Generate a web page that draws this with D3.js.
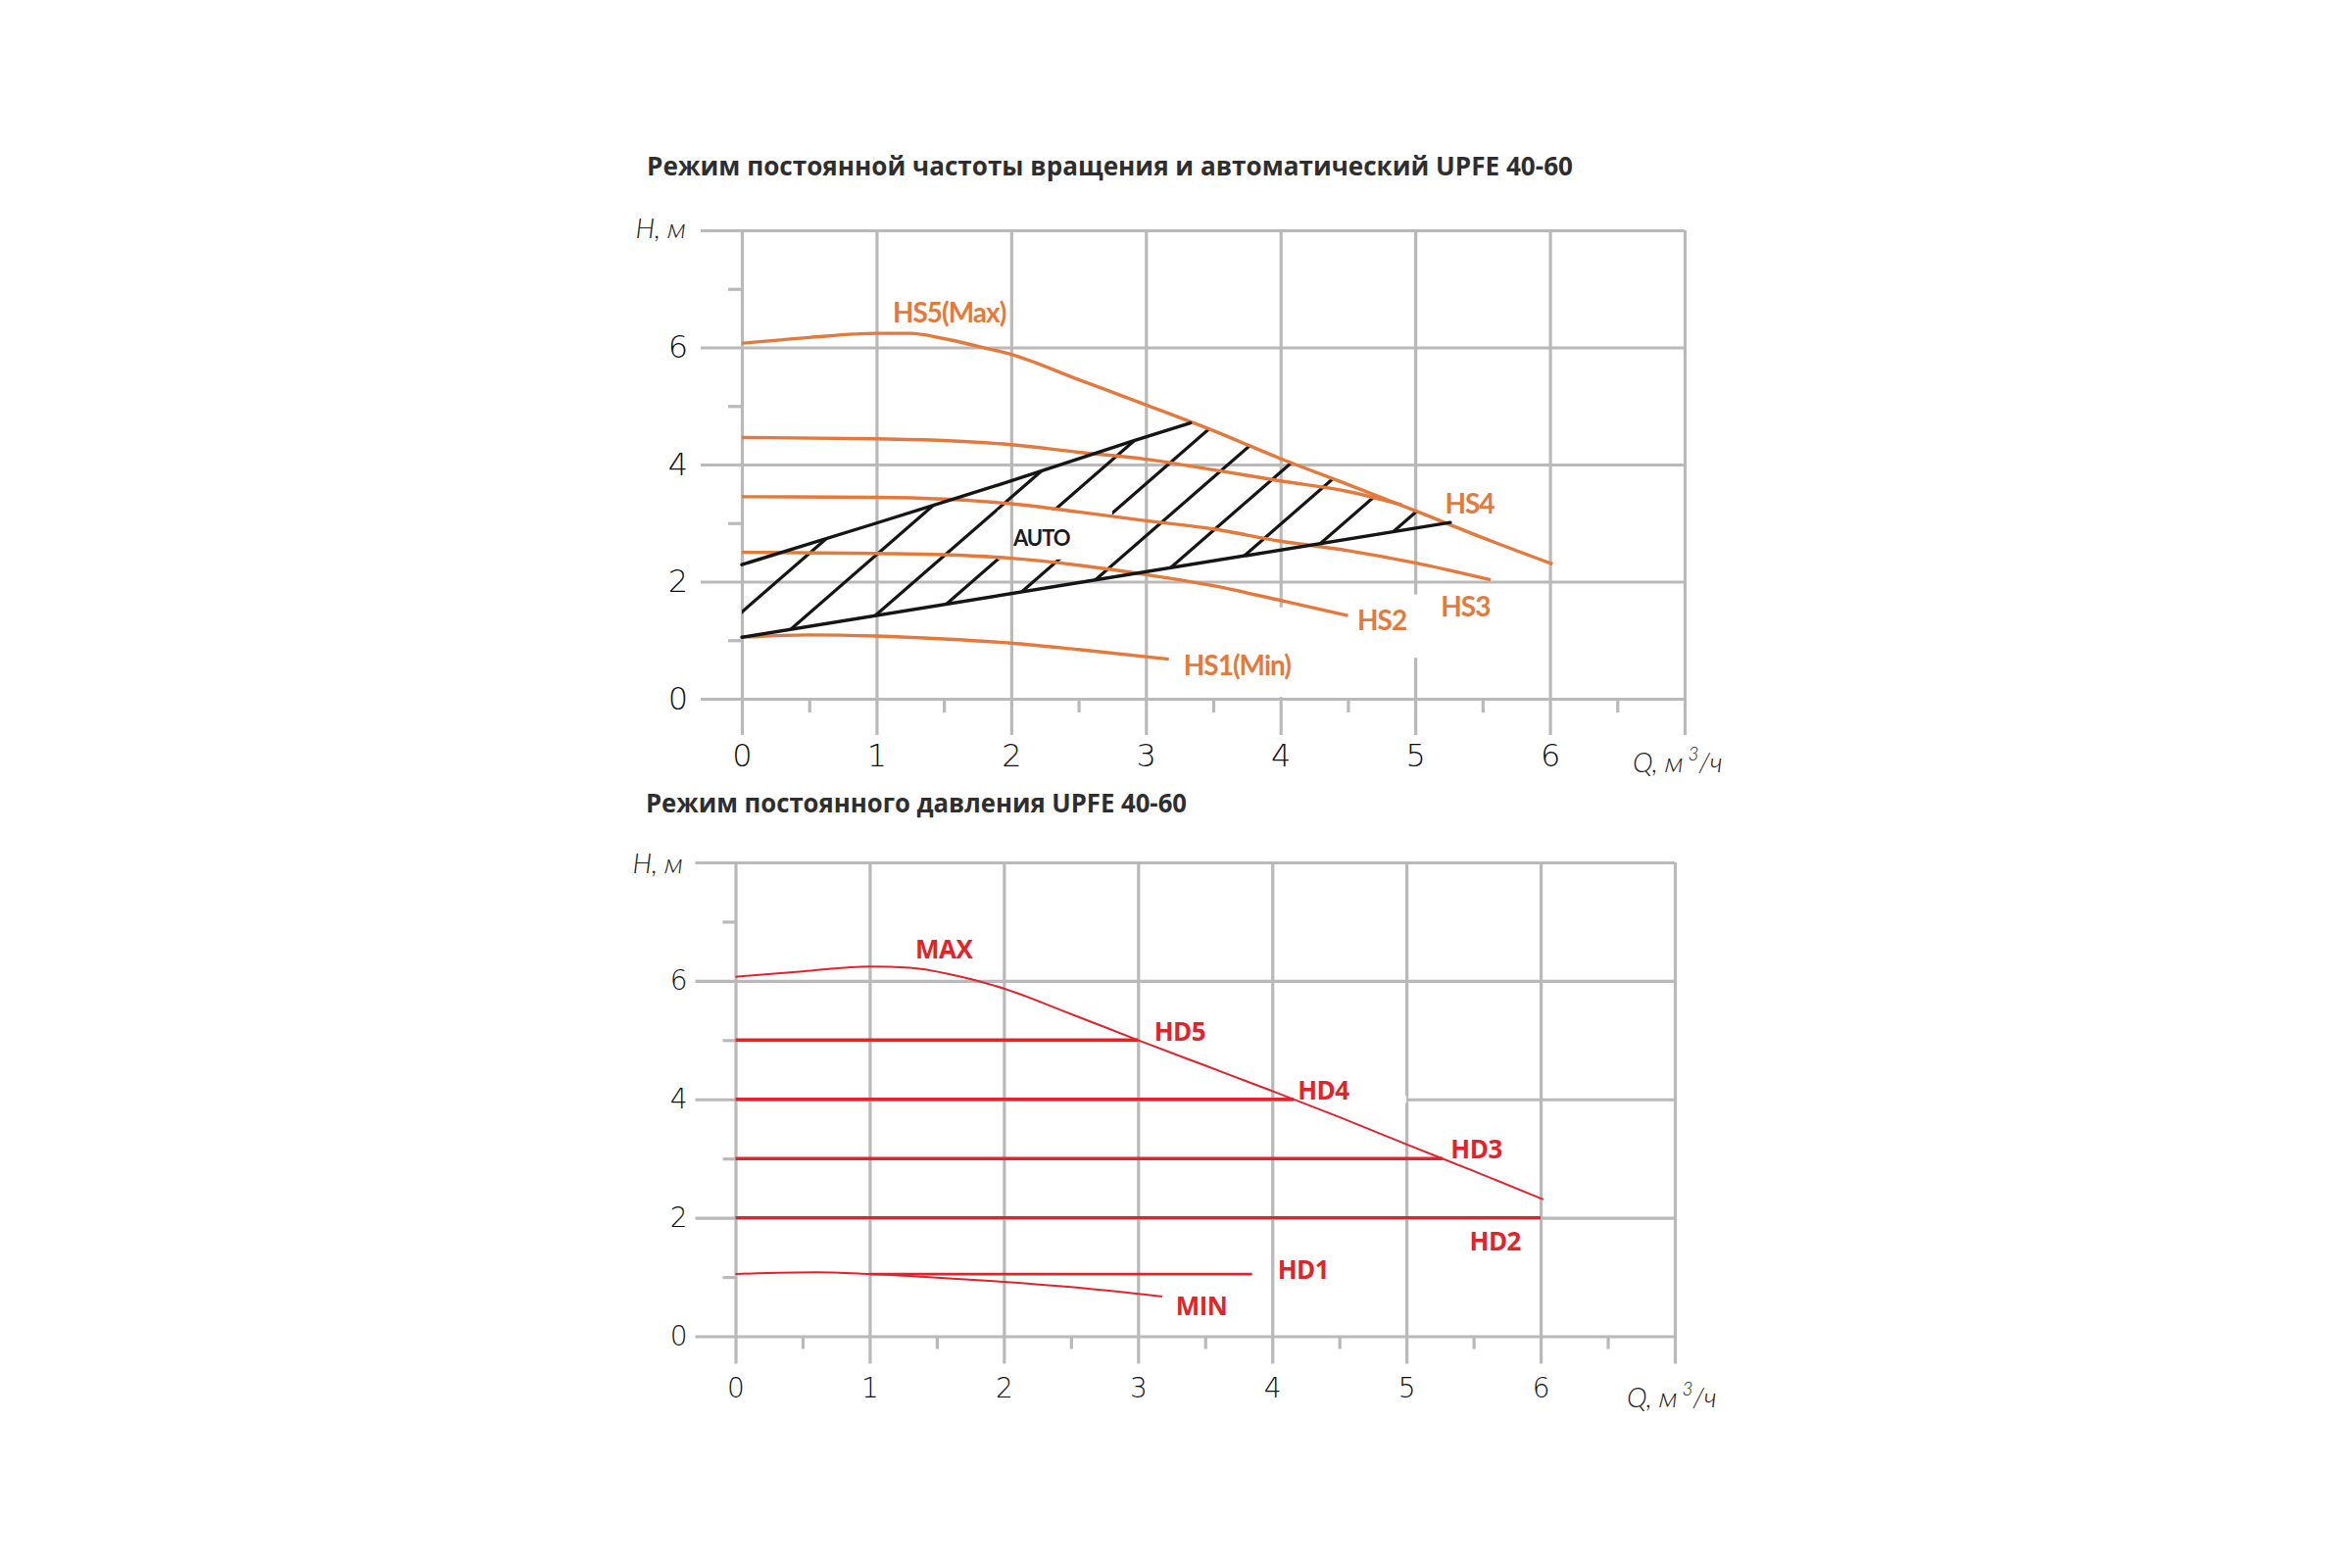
<!DOCTYPE html>
<html>
<head>
<meta charset="utf-8">
<script src="https://cdn.jsdelivr.net/npm/d3@7"></script>
<style>
  body { margin: 0; background: #fff; }
  svg { display: block; }
</style>
</head>
<body>
<main></main>
<script>
// ---------- data (Q in m3/h, H in m) ----------
const gridQ = [0, 1, 2, 3, 4, 5, 6, 7]
const minorQ = [0.5, 1.5, 2.5, 3.5, 4.5, 5.5, 6.5]
const gridH = [0, 2, 4, 6, 8]
const minorH = [1, 3, 5, 7]
const qLabels = [0, 1, 2, 3, 4, 5, 6]
const hLabels = [0, 2, 4, 6]

// constant speed curves (top chart)
const hs5 = [[0, 6.07], [0.5, 6.17], [1, 6.24], [1.25, 6.24], [1.5, 6.15], [1.75, 6.02], [2, 5.88], [2.5, 5.45], [3, 5.02], [3.5, 4.58], [4, 4.1], [4.5, 3.66], [5, 3.21], [5.5, 2.75], [6.02, 2.3]]
const hs4 = [[0, 4.46], [1, 4.44], [1.5, 4.41], [2, 4.34], [2.5, 4.21], [3, 4.09], [3.5, 3.91], [4, 3.72], [4.5, 3.54], [4.9, 3.31]]
const hs3 = [[0, 3.45], [1, 3.44], [1.5, 3.41], [2, 3.33], [2.5, 3.19], [3, 3.04], [3.5, 2.9], [4, 2.69], [4.5, 2.53], [5, 2.32], [5.56, 2.03]]
const hs2 = [[0, 2.5], [1, 2.48], [1.5, 2.46], [2, 2.4], [2.5, 2.28], [3, 2.12], [3.5, 1.93], [4, 1.68], [4.5, 1.42]]
const hs1 = [[0, 1.05], [0.5, 1.09], [1, 1.07], [1.5, 1.02], [2, 0.95], [2.5, 0.84], [3.17, 0.675]]

// AUTO zone edges and hatch lines (H = 2*Q + c)
const autoUpper = [[0, 2.29], [1, 3.0], [2, 3.72], [2.9, 4.4], [3.33, 4.71]]
const autoLower = [[0, 1.05], [5.26, 3.01]]
const hatchC = [1.48, 0.46, -0.56, -1.42, -2.33, -3.22, -4.13, -5.02, -5.94, -6.82]
const hatchSlope = 2
const autoLabelAt = [2.225, 2.76]
const autoGap = [[1.9, 2.38], [2.75, 3.22]]

const topNames = ["HS5(Max)", "HS4", "HS3", "HS2", "HS1(Min)"]
const topLabelAt = [[1.12, 6.61], [5.22, 3.35], [5.19, 1.59], [4.57, 1.35], [3.28, 0.59]]

// constant pressure (bottom chart)
const maxCurve = [[0, 6.07], [0.5, 6.16], [1, 6.24], [1.3, 6.22], [1.6, 6.11], [2, 5.87], [2.5, 5.44], [3, 5.0], [3.5, 4.57], [4, 4.14], [4.5, 3.7], [5, 3.24], [5.5, 2.79], [6.02, 2.31]]
const minCurve = [[0, 1.05], [0.6, 1.08], [1, 1.05], [1.5, 0.99], [2, 0.92], [2.5, 0.83], [3.18, 0.67]]
const hdNames = ["HD5", "HD4", "HD3", "HD2", "HD1"]
const hdHead = [5, 4, 3, 2, 1.05]
const hdFrom = [0, 0, 0, 0, 1.0]
const hdTo = [3.0, 4.16, 5.27, 6.0, 3.85]
const botNames = ["MAX", "HD5", "HD4", "HD3", "HD2", "HD1", "MIN"]
const botLabelAt = [[1.34, 6.55], [3.12, 5.15], [4.19, 4.16], [5.33, 3.17], [5.47, 1.62], [4.04, 1.13], [3.28, 0.52]]

const topTitle = "Режим постоянной частоты вращения и автоматический  UPFE 40-60"
const botTitle = "Режим постоянного давления UPFE 40-60"

// ---------- look ----------
const ORANGE = "#e5793b"
const RED = "#e2232b"
const GRID = "#b9b9b9"
const INK = "#2e2e2e"

const svg = d3.select("main").append("svg").attr("width", 2400).attr("height", 1600)

const topX = d3.scaleLinear().domain([0, 7]).range([757, 1719])
const topY = d3.scaleLinear().domain([0, 8]).range([713, 235])
const botX = d3.scaleLinear().domain([0, 7]).range([750.5, 1709])
const botY = d3.scaleLinear().domain([0, 8]).range([1363.5, 880])

const gridStyle = (s) => {
  s.select(".domain").remove()
  s.selectAll("line").attr("stroke", GRID).attr("stroke-width", 3.2)
}

function drawFrame(x, y, o) {
  const g = svg.append("g")
  const [xa, xb] = x.range()
  const [ya, yb] = y.range()

  g.append("g")
    .attr("transform", `translate(${xa - o.gridLeft},0)`)
    .call(d3.axisLeft(y).tickValues(gridH).tickSize(-(xb - xa + o.gridLeft)).tickFormat(""))
    .call(gridStyle)
  g.append("g")
    .attr("transform", `translate(0,${ya + o.gridBelow})`)
    .call(d3.axisBottom(x).tickValues(gridQ).tickSize(-(ya + o.gridBelow - yb)).tickFormat(""))
    .call(gridStyle)
  g.append("g")
    .attr("transform", `translate(${xa},0)`)
    .call(d3.axisLeft(y).tickValues(minorH).tickSize(o.minor).tickFormat(""))
    .call(gridStyle)
  g.append("g")
    .attr("transform", `translate(0,${ya})`)
    .call(d3.axisBottom(x).tickValues(minorQ).tickSize(o.minor).tickFormat(""))
    .call(gridStyle)

  // white breaks in the grid left by the label boxes of the original
  g.selectAll("rect.gap")
    .data(o.gaps)
    .enter()
    .append("rect")
    .attr("x", (d) => x(d[0][0]))
    .attr("y", (d) => y(d[1][1]))
    .attr("width", (d) => x(d[0][1]) - x(d[0][0]))
    .attr("height", (d) => y(d[1][0]) - y(d[1][1]))
    .attr("fill", "#fff")

  const tickText = (s) => {
    s.select(".domain").remove()
    s.attr("font-family", "'DejaVu Sans', sans-serif").attr("font-size", o.tickFont)
    s.selectAll("text").attr("fill", "#111").attr("font-weight", 200)
  }
  g.append("g")
    .attr("transform", `translate(${xa},0)`)
    .call(d3.axisLeft(y).tickValues(hLabels).tickSize(0).tickPadding(o.yPad).tickFormat(d3.format("d")))
    .call(tickText)
  g.append("g")
    .attr("transform", `translate(0,${ya})`)
    .call(d3.axisBottom(x).tickValues(qLabels).tickSize(0).tickPadding(o.xPad).tickFormat(d3.format("d")))
    .call(tickText)

  g.append("text")
    .attr("x", o.hAt[0]).attr("y", o.hAt[1])
    .attr("text-anchor", "end").attr("dominant-baseline", "central")
    .attr("font-family", "Lato, sans-serif").attr("font-style", "italic").attr("font-weight", 300)
    .attr("font-size", 28).attr("fill", "#222")
    .text("H, м")

  const q = g.append("text")
    .attr("x", o.qAt[0]).attr("y", o.qAt[1])
    .attr("dominant-baseline", "central")
    .attr("font-family", "Lato, sans-serif").attr("font-style", "italic").attr("font-weight", 300)
    .attr("font-size", 28).attr("fill", "#222")
  q.append("tspan").text("Q, м")
  q.append("tspan").attr("dy", -9).attr("font-size", 19).text(" 3")
  q.append("tspan").attr("dy", 9).text("/ч")

  svg.append("text")
    .attr("x", o.titleAt[0]).attr("y", o.titleAt[1])
    .attr("font-family", "'Open Sans', sans-serif").attr("font-weight", 700)
    .attr("font-size", 26).attr("fill", INK)
    .attr("textLength", o.titleLen).attr("lengthAdjust", "spacingAndGlyphs")
    .text(o.title)
}

const curve = (x, y) => d3.line().x((d) => x(d[0])).y((d) => y(d[1])).curve(d3.curveMonotoneX)
const straight = (x, y) => d3.line().x((d) => x(d[0])).y((d) => y(d[1]))

// ---------- top chart ----------
drawFrame(topX, topY, {
  gridLeft: 42, gridBelow: 37, minor: 14, tickFont: 32, yPad: 55, xPad: 46,
  gaps: [[[3.96, 4.04], [0.03, 1.56]], [[4.96, 5.04], [0.7, 1.78]]],
  hAt: [700, 232], qAt: [1666, 777],
  title: topTitle, titleAt: [660, 179], titleLen: 945,
})

const zone = autoLower
  .concat(hs5.filter((d) => d[0] > autoUpper[autoUpper.length - 1][0] && d[0] < autoLower[1][0]).reverse())
  .concat(autoUpper.slice().reverse())

const defs = svg.append("defs")
defs.append("clipPath").attr("id", "zone")
  .append("path")
  .attr("d", straight(topX, topY)(zone) + "Z")

const mask = defs.append("mask").attr("id", "auto-gap")
  .attr("maskUnits", "userSpaceOnUse").attr("x", 0).attr("y", 0).attr("width", 2400).attr("height", 1600)
mask.append("rect").attr("width", 2400).attr("height", 1600).attr("fill", "#fff")
mask.append("rect")
  .attr("x", topX(autoGap[0][0])).attr("y", topY(autoGap[1][1]))
  .attr("width", topX(autoGap[1][0]) - topX(autoGap[0][0]))
  .attr("height", topY(autoGap[0][1]) - topY(autoGap[1][1]))
  .attr("fill", "#000")

svg.append("g")
  .attr("clip-path", "url(#zone)")
  .attr("mask", "url(#auto-gap)")
  .selectAll("line")
  .data(hatchC)
  .enter()
  .append("line")
  .attr("x1", topX(-1)).attr("y1", (c) => topY(-hatchSlope + c))
  .attr("x2", topX(7)).attr("y2", (c) => topY(7 * hatchSlope + c))
  .attr("stroke", "#151515").attr("stroke-width", 3.2)

svg.append("g")
  .selectAll("path")
  .data([hs5, hs4, hs3, hs2, hs1])
  .enter()
  .append("path")
  .attr("d", curve(topX, topY))
  .attr("fill", "none").attr("stroke", ORANGE).attr("stroke-width", 3.4)

svg.append("g")
  .selectAll("path")
  .data([autoUpper, autoLower])
  .enter()
  .append("path")
  .attr("d", straight(topX, topY))
  .attr("fill", "none").attr("stroke", "#151515").attr("stroke-width", 3.4)
  .attr("stroke-linecap", "round")

svg.append("text")
  .attr("x", topX(autoLabelAt[0])).attr("y", topY(autoLabelAt[1]))
  .attr("text-anchor", "middle").attr("dominant-baseline", "central")
  .attr("font-family", "Lato, sans-serif").attr("font-weight", 700)
  .attr("font-size", 22).attr("letter-spacing", -1).attr("fill", "#1c1c1c")
  .text("AUTO")

svg.append("g")
  .selectAll("text")
  .data(topNames)
  .enter()
  .append("text")
  .attr("x", (d, i) => topX(topLabelAt[i][0]))
  .attr("y", (d, i) => topY(topLabelAt[i][1]))
  .attr("dominant-baseline", "central")
  .attr("font-family", "Lato, sans-serif").attr("font-weight", 700)
  .attr("font-size", 28).attr("letter-spacing", -1).attr("fill", ORANGE)
  .text((d) => d)

// ---------- bottom chart ----------
drawFrame(botX, botY, {
  gridLeft: 41, gridBelow: 28, minor: 13, tickFont: 28, yPad: 49, xPad: 43,
  gaps: [[[4.16, 5.0], [3.94, 4.06]]],
  hAt: [697, 880], qAt: [1660, 1425],
  title: botTitle, titleAt: [659, 829], titleLen: 552,
})

svg.append("g")
  .selectAll("path")
  .data([maxCurve, minCurve])
  .enter()
  .append("path")
  .attr("d", curve(botX, botY))
  .attr("fill", "none").attr("stroke", RED).attr("stroke-width", 2)

svg.append("g")
  .selectAll("line")
  .data(hdNames)
  .enter()
  .append("line")
  .attr("x1", (d, i) => botX(hdFrom[i]))
  .attr("x2", (d, i) => botX(hdTo[i]))
  .attr("y1", (d, i) => botY(hdHead[i]))
  .attr("y2", (d, i) => botY(hdHead[i]))
  .attr("stroke", RED)
  .attr("stroke-width", (d, i) => (i === 4 ? 2.8 : 3.4))

svg.append("g")
  .selectAll("text")
  .data(botNames)
  .enter()
  .append("text")
  .attr("x", (d, i) => botX(botLabelAt[i][0]))
  .attr("y", (d, i) => botY(botLabelAt[i][1]))
  .attr("dominant-baseline", "central")
  .attr("font-family", "'Open Sans', sans-serif").attr("font-weight", 700)
  .attr("font-size", 26).attr("letter-spacing", -0.5).attr("fill", RED)
  .text((d) => d)
</script>
</body>
</html>
